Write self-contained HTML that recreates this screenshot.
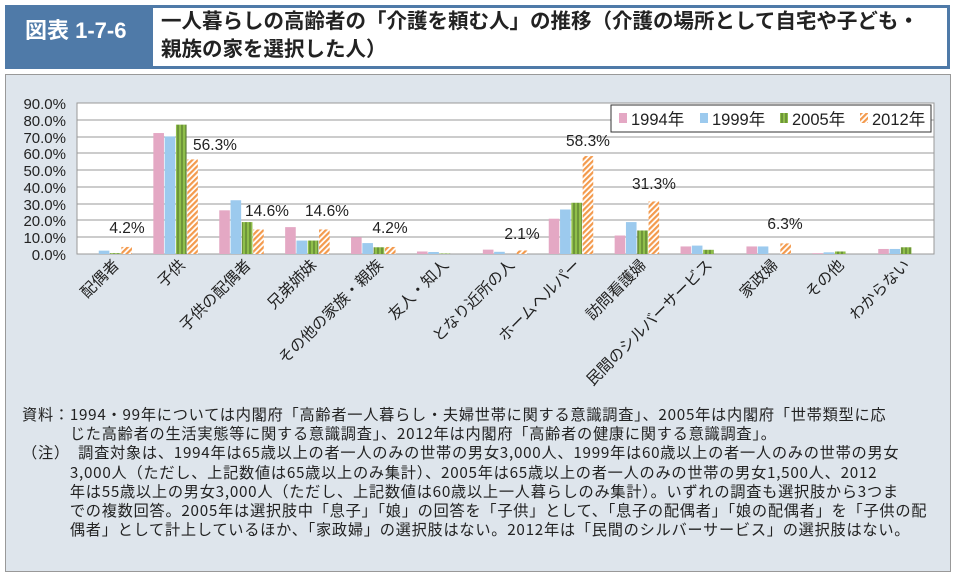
<!DOCTYPE html>
<html><head><meta charset="utf-8"><style>
body{margin:0;width:956px;height:577px;background:#fff;font-family:"Liberation Sans","Noto Sans CJK JP",sans-serif;overflow:hidden;position:relative}
.hd{position:absolute;left:5px;top:5px;width:945px;height:64px;background:#4f7aa8}
.hdl{position:absolute;left:20px;top:8px;color:#fff;font-size:22px;font-weight:bold}
.ttl{position:absolute;left:148px;top:3px;width:794px;height:58px;background:#fff;font-size:20.5px;font-weight:bold;line-height:28px;padding-left:8px;box-sizing:border-box;color:#222}
.panel{position:absolute;left:5px;top:74px;width:944px;height:496px;background:#dee5ec;border:1px solid #999}
.note{position:absolute;left:22px;top:405px;font-family:"Noto Sans CJK JP",sans-serif;font-size:15.2px;letter-spacing:0.75px;line-height:19.2px;color:#222;white-space:nowrap}
svg text{font-family:"Liberation Sans","Noto Sans CJK JP",sans-serif}
</style></head><body>
<div class="hd"><div class="hdl">図表 1-7-6</div><div class="ttl">一人暮らしの高齢者の「介護を頼む人」の推移（介護の場所として自宅や子ども・<br>親族の家を選択した人）</div></div>
<div class="panel"></div>
<svg style="position:absolute;left:0;top:0" width="956" height="577">
<defs>
<pattern id="hat" width="4" height="4" patternUnits="userSpaceOnUse" patternTransform="rotate(45)"><rect width="4" height="4" fill="#fff"/><rect width="2.2" height="4" fill="#f39a4d"/></pattern>
<pattern id="grn" width="4" height="4" patternUnits="userSpaceOnUse"><rect width="4" height="4" fill="#8fbf4a"/><rect x="1.5" width="1" height="4" fill="#4d6b2a"/></pattern>
</defs>
<rect x="77" y="103" width="857" height="151" fill="#fff" stroke="#999"/>
<g stroke="#999" stroke-width="1">
<line x1="77" x2="934" y1="120" y2="120"/><line x1="77" x2="934" y1="137" y2="137"/><line x1="77" x2="934" y1="153" y2="153"/><line x1="77" x2="934" y1="170" y2="170"/><line x1="77" x2="934" y1="187" y2="187"/><line x1="77" x2="934" y1="204" y2="204"/><line x1="77" x2="934" y1="220" y2="220"/><line x1="77" x2="934" y1="237" y2="237"/>
</g>
<g font-size="15" fill="#222" text-anchor="end">
<text x="66" y="109">90.0%</text><text x="66" y="126">80.0%</text><text x="66" y="143">70.0%</text><text x="66" y="159">60.0%</text><text x="66" y="176">50.0%</text><text x="66" y="193">40.0%</text><text x="66" y="210">30.0%</text><text x="66" y="226">20.0%</text><text x="66" y="243">10.0%</text><text x="66" y="260">0.0%</text>
</g>
<g id="bars"></g>
<g id="lab" font-size="15.5" fill="#222"></g>
<rect x="611" y="105" width="320" height="27" fill="#fff" stroke="#333"/>
<g font-size="16.5" fill="#222">
<rect x="619" y="113" width="8" height="10" fill="#e4a8c4"/><text x="631" y="125">1994年</text>
<rect x="700" y="113" width="8" height="10" fill="#9ccaee"/><text x="712" y="125">1999年</text>
<rect x="780" y="113" width="8" height="10" fill="url(#grn)"/><text x="792" y="125">2005年</text>
<rect x="860" y="113" width="8" height="10" fill="url(#hat)"/><text x="872" y="125">2012年</text>
</g>
<g font-size="15.5" fill="#222" text-anchor="middle">
<text x="127" y="233">4.2%</text><text x="215" y="150">56.3%</text><text x="267" y="216">14.6%</text><text x="327" y="216">14.6%</text><text x="390" y="233">4.2%</text><text x="522" y="239">2.1%</text><text x="588" y="146">58.3%</text><text x="654" y="189">31.3%</text><text x="785" y="229">6.3%</text>
</g>
</svg>
<div class="note">資料：1994・99年については内閣府「高齢者一人暮らし・夫婦世帯に関する意識調査」、2005年は内閣府「世帯類型に応<br>　　　じた高齢者の生活実態等に関する意識調査」、2012年は内閣府「高齢者の健康に関する意識調査」。<br>（注）　調査対象は、1994年は65歳以上の者一人のみの世帯の男女3,000人、1999年は60歳以上の者一人のみの世帯の男女<br>　　　3,000人（ただし、上記数値は65歳以上のみ集計）、2005年は65歳以上の者一人のみの世帯の男女1,500人、2012<br>　　　年は55歳以上の男女3,000人（ただし、上記数値は60歳以上一人暮らしのみ集計）。いずれの調査も選択肢から3つま<br>　　　での複数回答。2005年は選択肢中「息子」「娘」の回答を「子供」として、「息子の配偶者」「娘の配偶者」を「子供の配<br>　　　偶者」として計上しているほか、「家政婦」の選択肢はない。2012年は「民間のシルバーサービス」の選択肢はない。</div>
<script>
var d=[[0,2,0.5,4.2],[72,70,77,56.3],[26,32,19,14.6],[16,8,8,14.6],[10,6.5,4,4.2],[1.5,1.2,0.3,0],[2.6,1.3,0,2.1],[21,26.5,30.5,58.3],[11,19,14,31.3],[4.5,5,2.5,0],[4.5,4.5,0,6.3],[0.5,1,1.5,0],[3,3,4,0]];
var n=["配偶者","子供","子供の配偶者","兄弟姉妹","その他の家族・親族","友人・知人","となり近所の人","ホームヘルパー","訪問看護婦","民間のシルバーサービス","家政婦","その他","わからない"];
var f=["#e4a8c4","#9ccaee","url(#grn)","url(#hat)"];
var ns="http://www.w3.org/2000/svg",b=document.getElementById("bars"),l=document.getElementById("lab");
d.forEach(function(r,i){var c=77+65.9*(i+0.5);r.forEach(function(v,j){if(v<=0)return;var h=v*1.68,e=document.createElementNS(ns,"rect");e.setAttribute("x",c-22.5+j*11.3);e.setAttribute("y",254-h);e.setAttribute("width",10.6);e.setAttribute("height",h);e.setAttribute("fill",f[j]);b.appendChild(e);});
var t=document.createElementNS(ns,"text");t.setAttribute("text-anchor","end");t.setAttribute("transform","translate("+(c+10)+",266) rotate(-45)");t.textContent=n[i];l.appendChild(t);});
</script>
</body></html>
